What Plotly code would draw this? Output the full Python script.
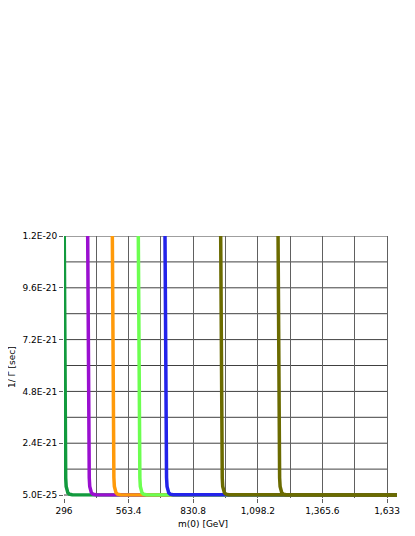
import plotly.graph_objects as go

# lifetime 1/Gamma [sec] along each curve (same shape for every series)
lifetime = [1.3e-20, 6e-21, 3e-21, 1.5e-21, 8e-22, 4e-22, 2e-22, 1e-22, 4e-23, 1e-23, 1e-24]

# m(0) [GeV] for each series
m_green = [296.5, 298.5, 300, 301.5, 303, 305, 308, 312, 318, 330, 1680]
m_purple = [393.5, 396, 397.5, 399, 400.5, 402.5, 405.5, 409.5, 415.5, 427.5, 1680]
m_orange = [495.5, 498, 499.5, 501, 502.5, 504.5, 507.5, 511.5, 517.5, 529.5, 1680]
m_lime = [603, 605.5, 607, 608.5, 610, 612, 615, 619, 625, 637, 1680]
m_blue = [713.5, 716, 717.5, 719, 720.5, 722.5, 725.5, 729.5, 735.5, 747.5, 1680]
m_olive1 = [944, 946.5, 948, 949.5, 951, 953, 956, 960, 966, 978, 1680]
m_olive2 = [1181.5, 1184, 1185.5, 1187, 1188.5, 1190.5, 1193.5, 1197.5, 1203.5, 1215.5, 1680]

series = [
    (m_green, "#129a3e"),
    (m_purple, "#9a0fd0"),
    (m_orange, "#ff9a0a"),
    (m_lime, "#6cff50"),
    (m_blue, "#2323ea"),
    (m_olive1, "#6b6b00"),
    (m_olive2, "#6b6b00"),
]

x_ticks = [296, 563.4, 830.8, 1098.2, 1365.6, 1633]
x_labels = ["296", "563.4", "830.8", "1,098.2", "1,365.6", "1,633"]
y_ticks = [5e-25, 2.4e-21, 4.8e-21, 7.2e-21, 9.6e-21, 1.2e-20]
y_labels = ["5.0E-25", "2.4E-21", "4.8E-21", "7.2E-21", "9.6E-21", "1.2E-20"]
y_grid = [5e-25, 1.2e-21, 2.4e-21, 3.6e-21, 4.8e-21, 6e-21, 7.2e-21, 8.4e-21, 9.6e-21, 1.08e-20, 1.2e-20]

fig = go.Figure()

for m, color in series:
    fig.add_trace(go.Scatter(
        x=m, y=lifetime, mode="lines",
        line=dict(color=color, width=3.5),
        showlegend=False, hoverinfo="skip",
    ))

# horizontal grid stops at the last x tick
shapes = []
for yv in y_grid:
    shapes.append(dict(type="line", xref="x", yref="y", x0=x_ticks[0], x1=x_ticks[-1],
                       y0=yv, y1=yv, line=dict(color="#404040", width=1), layer="below"))

# page body has an 8px margin, so margins are reduced by 8 on left/top
fig.update_layout(
    width=415, height=536,
    margin=dict(l=56, r=26, t=228, b=46),
    plot_bgcolor="white", paper_bgcolor="white",
    font=dict(family="DejaVu Sans", size=9, color="black"),
    shapes=shapes,
    xaxis=dict(
        range=[296, 1674.4], tickvals=x_ticks, ticktext=x_labels,
        showgrid=True, gridcolor="#606060", gridwidth=1,
        minor=dict(tickvals=[429.7, 697.1, 964.5, 1231.9, 1499.3], showgrid=True,
                   gridcolor="#606060", gridwidth=1),
        ticks="outside", ticklen=4, tickcolor="#606060",
        zeroline=False, showline=False,
    ),
    yaxis=dict(
        range=[-1.385e-22, 1.2e-20], tickvals=y_ticks, ticktext=y_labels,
        showgrid=False, ticks="outside", ticklen=4, tickcolor="#606060",
        zeroline=False, showline=False,
    ),
    annotations=[
        dict(text="m(0) [GeV]", xref="paper", yref="paper", x=(203 - 64) / 333, y=-(524 - 498) / 262,
             showarrow=False, xanchor="center", yanchor="middle", font=dict(size=9)),
        dict(text="1/ Γ [sec]", xref="paper", yref="paper", x=-(64 - 12) / 333, y=0.5,
             showarrow=False, textangle=-90, xanchor="center", yanchor="middle", font=dict(size=9)),
    ],
)

fig.write_html("out.html")
